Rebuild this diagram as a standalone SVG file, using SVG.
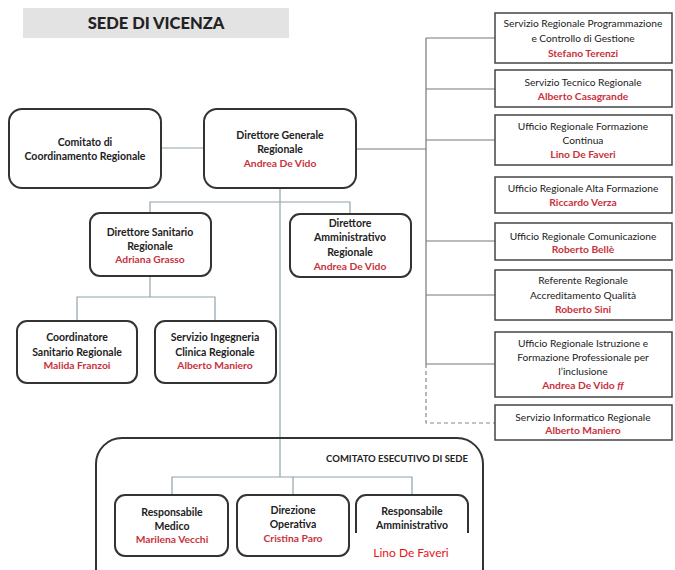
<svg xmlns="http://www.w3.org/2000/svg" width="675" height="570" viewBox="0 0 675 570">
<style>
text{font-family:Lato,"Liberation Sans",sans-serif;text-anchor:middle;fill:#222}
.b{font-weight:bold;font-size:10.5px}
.r{font-size:10.2px}
.n{fill:#c8323c;font-weight:bold;font-size:10.3px}
.box{fill:#fff;stroke:#333;stroke-width:2}
.sq{fill:#fff;stroke:#444;stroke-width:1.5}
.c1{fill:none;stroke:#8fa3ab;stroke-width:1.2}
.c2{fill:none;stroke:#777;stroke-width:1.2}
.d{fill:none;stroke:#888;stroke-width:1.2;stroke-dasharray:4 3}
</style>
<rect width="675" height="570" fill="#fff"/>
<g id="title">
<rect x="23" y="8" width="266" height="30" fill="#e3e3e3"/>
<text x="156" y="29" style="font-size:16.5px;font-weight:900">SEDE DI VICENZA</text>
</g>
<g id="connectors">
<line class="c1" x1="161" y1="148" x2="204" y2="148"/>
<line class="c2" x1="356" y1="149" x2="426" y2="149"/>
<line class="c2" x1="426" y1="38" x2="426" y2="364"/>
<line class="c2" x1="426" y1="38" x2="495" y2="38"/>
<line class="c2" x1="426" y1="89" x2="495" y2="89"/>
<line class="c2" x1="426" y1="140" x2="495" y2="140"/>
<line class="c2" x1="426" y1="241" x2="495" y2="241"/>
<line class="c2" x1="426" y1="295" x2="495" y2="295"/>
<line class="c2" x1="426" y1="364" x2="495" y2="364"/>
<polyline class="d" points="426,364 426,423 495,423"/>
<line class="c1" x1="280" y1="188" x2="280" y2="477"/>
<polyline class="c1" points="150,213 150,202 350,202 350,214"/>
<line class="c1" x1="150" y1="276" x2="150" y2="297"/>
<polyline class="c1" points="77,321 77,297 215,297 215,321"/>
<polyline class="c1" points="172,495 172,477 412,477 412,495"/>
<line class="c1" x1="293" y1="477" x2="293" y2="495"/>
</g>
<g id="comitato">
<rect class="box" x="9" y="109" width="152" height="79" rx="13"/>
<text class="b" x="85" y="146">Comitato di</text>
<text class="b" x="85" y="160">Coordinamento Regionale</text>
</g>
<g id="dg">
<rect class="box" x="204" y="109" width="152" height="79" rx="13"/>
<text class="b" x="280" y="139">Direttore Generale</text>
<text class="b" x="280" y="153">Regionale</text>
<text class="n" x="280" y="167">Andrea De Vido</text>
</g>
<g id="ds">
<rect class="box" x="90" y="213" width="121" height="63" rx="10"/>
<text class="b" x="150" y="236">Direttore Sanitario</text>
<text class="b" x="150" y="250">Regionale</text>
<text class="n" x="150" y="263">Adriana Grasso</text>
</g>
<g id="da">
<rect class="box" x="290" y="214" width="121" height="63" rx="10"/>
<text class="b" x="350" y="227">Direttore</text>
<text class="b" x="350" y="241">Amministrativo</text>
<text class="b" x="350" y="256">Regionale</text>
<text class="n" x="350" y="270">Andrea De Vido</text>
</g>
<g id="coord">
<rect class="box" x="17" y="321" width="120" height="62" rx="10"/>
<text class="b" x="77" y="341">Coordinatore</text>
<text class="b" x="77" y="356">Sanitario Regionale</text>
<text class="n" x="77" y="369">Malida Franzoi</text>
</g>
<g id="ing">
<rect class="box" x="155" y="321" width="121" height="62" rx="10"/>
<text class="b" x="215" y="341">Servizio Ingegneria</text>
<text class="b" x="215" y="356">Clinica Regionale</text>
<text class="n" x="215" y="369">Alberto Maniero</text>
</g>
<g id="r1">
<rect class="sq" x="495" y="13" width="177" height="50"/>
<text class="r" x="583" y="27">Servizio Regionale Programmazione</text>
<text class="r" x="583" y="42">e Controllo di Gestione</text>
<text class="n" x="583" y="57">Stefano Terenzi</text>
</g>
<g id="r2">
<rect class="sq" x="495" y="70" width="177" height="37"/>
<text class="r" x="583" y="86">Servizio Tecnico Regionale</text>
<text class="n" x="583" y="100">Alberto Casagrande</text>
</g>
<g id="r3">
<rect class="sq" x="495" y="115" width="177" height="50"/>
<text class="r" x="583" y="130">Ufficio Regionale Formazione</text>
<text class="r" x="583" y="144">Continua</text>
<text class="n" x="583" y="158">Lino De Faveri</text>
</g>
<g id="r4">
<rect class="sq" x="495" y="177" width="177" height="36"/>
<text class="r" x="583" y="192">Ufficio Regionale Alta Formazione</text>
<text class="n" x="583" y="206">Riccardo Verza</text>
</g>
<g id="r5">
<rect class="sq" x="495" y="223" width="177" height="37"/>
<text class="r" x="583" y="240">Ufficio Regionale Comunicazione</text>
<text class="n" x="583" y="253">Roberto Bellè</text>
</g>
<g id="r6">
<rect class="sq" x="495" y="270" width="177" height="50"/>
<text class="r" x="583" y="284">Referente Regionale</text>
<text class="r" x="583" y="299">Accreditamento Qualità</text>
<text class="n" x="583" y="313">Roberto Sini</text>
</g>
<g id="r7">
<rect class="sq" x="495" y="332" width="177" height="65"/>
<text class="r" x="583" y="347">Ufficio Regionale Istruzione e</text>
<text class="r" x="583" y="361">Formazione Professionale per</text>
<text class="r" x="583" y="375">l’inclusione</text>
<text class="n" x="583" y="389">Andrea De Vido <tspan font-style="italic">ff</tspan></text>
</g>
<g id="r8">
<rect class="sq" x="495" y="405" width="177" height="35"/>
<text class="r" x="583" y="421">Servizio Informatico Regionale</text>
<text class="n" x="583" y="434">Alberto Maniero</text>
</g>
<g id="comitato-esecutivo">
<rect x="96" y="438" width="387" height="160" rx="26" fill="none" stroke="#333" stroke-width="2"/>
<text x="468" y="462" style="font-size:9.5px;font-weight:bold;text-anchor:end">COMITATO ESECUTIVO DI SEDE</text>
</g>
<g id="rm">
<rect class="box" x="115" y="495" width="113" height="61" rx="10"/>
<text class="b" x="172" y="516">Responsabile</text>
<text class="b" x="172" y="530">Medico</text>
<text class="n" x="172" y="543">Marilena Vecchi</text>
</g>
<g id="do">
<rect class="box" x="237" y="495" width="112" height="61" rx="10"/>
<text class="b" x="293" y="514">Direzione</text>
<text class="b" x="293" y="528">Operativa</text>
<text class="n" x="293" y="542">Cristina Paro</text>
</g>
<g id="ra">
<rect class="box" x="356" y="495" width="112" height="61" rx="10"/>
<text class="b" x="412" y="515">Responsabile</text>
<text class="b" x="412" y="529">Amministrativo</text>
<rect x="352" y="533" width="128" height="37" fill="#fff"/>
<text x="411" y="557" style="font-size:12px;fill:#e8141b">Lino De Faveri</text>
</g>
</svg>
